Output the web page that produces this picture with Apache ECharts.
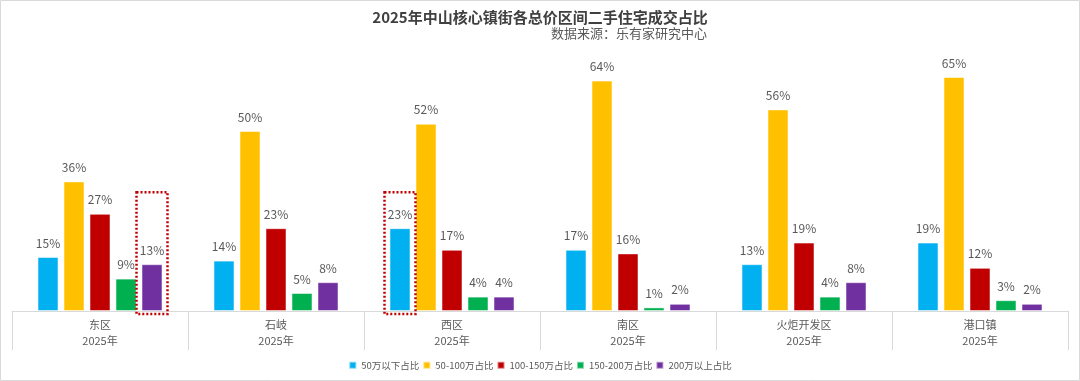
<!DOCTYPE html>
<html><head><meta charset="utf-8">
<script src="https://cdn.jsdelivr.net/npm/echarts@6/dist/echarts.min.js"></script>
<style>html,body{margin:0;padding:0;background:#fff}#c{width:1080px;height:381px}</style>
</head><body><div id="c"></div>
<script>
const districts = ['东区', '石岐', '西区', '南区', '火炬开发区', '港口镇'];
const yearLabel = '2025年';
const seriesNames = ['50万以下占比', '50-100万占比', '100-150万占比', '150-200万占比', '200万以上占比'];
const below50 = [15, 14, 23, 17, 13, 19];
const from50to100 = [36, 50, 52, 64, 56, 65];
const from100to150 = [27, 23, 17, 16, 19, 12];
const from150to200 = [9, 5, 4, 1, 4, 3];
const above200 = [13, 8, 4, 2, 8, 2];
const highlights = [[0, 4], [2, 0]]; // [category index, series index]
const highlightTop = 33;

const colors = ['#00B0F0', '#FFC000', '#C00000', '#00B050', '#7030A0'];
const values = [below50, from50to100, from100to150, from150to200, above200];
const BW = 21, GAP = 5;

const chart = echarts.init(document.getElementById('c'));
const option = {
  backgroundColor: '#fff',
  animation: false,
  title: {
    text: '2025年中山核心镇街各总价区间二手住宅成交占比',
    left: 'center', top: 5,
    textStyle: {fontSize: 15, fontWeight: 'bold', color: '#404040', fontFamily: 'Noto Sans CJK SC'}
  },
  legend: {
    bottom: 6, left: 'center',
    itemWidth: 7, itemHeight: 7, itemGap: 3, icon: 'rect',
    textStyle: {fontSize: 9.5, color: '#595959', fontFamily: 'Noto Sans CJK SC'},
    data: seriesNames
  },
  grid: {left: 12, right: 12, top: 59, bottom: 70, containLabel: false},
  xAxis: {
    type: 'category', data: districts,
    axisLine: {show: true, lineStyle: {color: '#d9d9d9'}},
    axisTick: {show: true, length: 39, interval: 0, lineStyle: {color: '#d9d9d9'}},
    axisLabel: {
      interval: 0, margin: 6,
      formatter: v => '{a|' + v + '}\n{b|' + yearLabel + '}',
      rich: {
        a: {fontSize: 11, color: '#595959', lineHeight: 16, fontFamily: 'Noto Sans CJK SC'},
        b: {fontSize: 11, color: '#595959', lineHeight: 16, fontFamily: 'Noto Sans CJK SC'}
      }
    }
  },
  yAxis: {type: 'value', min: 0, max: 70, show: false, splitLine: {show: false}},
  series: seriesNames.map((n, i) => ({
    name: n, type: 'bar', data: values[i],
    barWidth: BW, barGap: (GAP / BW * 100) + '%',
    itemStyle: {color: colors[i], borderColor: 'rgba(255,255,255,0.5)', borderWidth: 1},
    label: {show: true, position: 'top', distance: 8, formatter: '{c}%', fontSize: 12, color: '#595959', fontFamily: 'Noto Sans CJK SC'}
  }))
};
chart.setOption(option);

const graphics = [{
  type: 'rect', shape: {x: 0.5, y: 0.5, width: 1079, height: 380},
  style: {fill: null, stroke: '#d9d9d9', lineWidth: 1}, silent: true
}, {
  type: 'text', right: 373, top: 27,
  style: {text: '数据来源：乐有家研究中心', fontSize: 13, fill: '#595959', fontFamily: 'Noto Sans CJK SC'}
}];
highlights.forEach(([ci, si]) => {
  const c = chart.convertToPixel({xAxisIndex: 0}, districts[ci]);
  const top = chart.convertToPixel({yAxisIndex: 0}, highlightTop);
  const base = chart.convertToPixel({yAxisIndex: 0}, 0);
  const offset = (si - 2) * (BW + GAP);
  const cx = c + offset;
  graphics.push({
    type: 'rect', shape: {x: cx - BW / 2 - 5, y: top, width: BW + 10, height: base - top + 3},
    style: {fill: null, stroke: '#C00000', lineWidth: 2.5, lineDash: [2, 2]}, silent: true, z: 10
  });
});
chart.setOption({graphic: graphics});
</script></body></html>
